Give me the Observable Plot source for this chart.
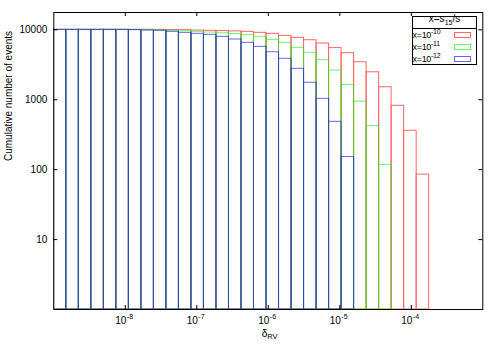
<!DOCTYPE html>
<html><head><meta charset="utf-8">
<script src="https://cdn.jsdelivr.net/npm/d3@7"></script>
<script src="https://cdn.jsdelivr.net/npm/@observablehq/plot@0.6"></script>
<style>
body{margin:0;background:#fff;font-family:"Liberation Sans",Arial,sans-serif;}
#wrap{position:relative;width:500px;height:350px;overflow:hidden;}
.abs{position:absolute;white-space:nowrap;color:#000;}
.lt{font-size:10px;line-height:12px;}
.lr{font-size:9px;line-height:12px;letter-spacing:-0.3px;}
.sub{font-size:7px;position:relative;top:2.5px;}
.sup{font-size:7px;position:relative;top:-4px;}
.sw{position:absolute;box-sizing:border-box;width:17px;height:6px;border:1px solid;}
</style></head><body><div id="wrap"></div>
<script>
// log10 of the bin edges (delta_RV)
const logEdges = [-9, -8.825, -8.65, -8.475, -8.3, -8.125, -7.95, -7.775, -7.6, -7.425, -7.25, -7.075, -6.9, -6.725, -6.55, -6.375, -6.2, -6.025, -5.85, -5.675, -5.5, -5.325, -5.15, -4.975, -4.8, -4.625, -4.45, -4.275, -4.1, -3.925, -3.75];
const seriesNames = ["x=1e-10", "x=1e-11", "x=1e-12"];
const seriesExp = ["-10", "-11", "-12"];
const seriesColors = ["#ff0000", "#00ff00", "#0000ff"];
const countsA = [10000,10000,10000,10000,10000,10000,10000,10000,10000,9950,9870,9770,9675,9600,9500,9360,9060,8770,8200,7680,7100,6370,5480,4630,3440,2470,1510,820,360,85];
const countsB = [10000,10000,10000,10000,10000,10000,10000,9900,9800,9675,9550,9360,9150,8940,8700,8370,7940,7190,6520,5530,4690,3680,2620,1630,940,420,117];
const countsC = [10000,10000,10000,10000,10000,10000,9900,9760,9680,9360,9060,8770,8480,7940,7270,6520,5710,4780,3850,2770,1750,1030,484,152];
const xTicks = [1e-8, 1e-7, 1e-6, 1e-5, 1e-4];
const yTicks = [10, 100, 1000, 10000];

const allCounts = [countsA, countsB, countsC];
const rows = allCounts.map((arr, s) => arr.map((v, k) => ({
  series: seriesNames[s], x1: 10 ** logEdges[k], x2: 10 ** logEdges[k + 1], y: v
})));

const W = 500, H = 350, mL = 53.3, mR = 17.7, mT = 12, mB = 41;
const innerW = W - mL - mR, innerH = H - mT - mB;

const marks = rows.map(r => Plot.rect(r, {x1: "x1", x2: "x2", y1: () => 1, y2: "y", fill: "none", stroke: "series", strokeWidth: 1, clip: true}));

const chart = Plot.plot({
  width: W, height: H,
  marginLeft: mL, marginRight: mR, marginTop: mT, marginBottom: mB,
  style: {fontFamily: "Liberation Sans, Arial, sans-serif", fontSize: "10px", background: "#fff"},
  x: {type: "log", domain: [1e-9, 1e-3], axis: null},
  y: {type: "log", domain: [1, 17700], axis: null},
  color: {domain: seriesNames, range: seriesColors},
  marks: [
    ...marks,
    Plot.tickX(xTicks, {x: d => d, insetTop: innerH - 4, stroke: "#000"}),
    Plot.tickX(xTicks, {x: d => d, insetBottom: innerH - 4, stroke: "#000"}),
    Plot.tickY(yTicks, {y: d => d, insetRight: innerW - 4, stroke: "#000"}),
    Plot.tickY(yTicks, {y: d => d, insetLeft: innerW - 4, stroke: "#000"}),
    Plot.text(xTicks, {x: d => d, frameAnchor: "bottom", text: () => "10", textAnchor: "end", lineAnchor: "bottom", dx: 1, dy: 14.5, fontSize: 10, fill: "#000"}),
    Plot.text(xTicks, {x: d => d, frameAnchor: "bottom", text: d => String(Math.round(Math.log10(d))), textAnchor: "start", lineAnchor: "bottom", dx: 1.5, dy: 9.5, fontSize: 7, fill: "#000"}),
    Plot.text(yTicks, {y: d => d, frameAnchor: "left", text: d => String(d), textAnchor: "end", dx: -6.5, fontSize: 10, fill: "#000"}),
    Plot.text(["Cumulative number of events"], {frameAnchor: "left", text: d => d, rotate: -90, dx: -45, fontSize: 10, fill: "#000"}),
    Plot.text(["δ"], {frameAnchor: "bottom", text: d => d, textAnchor: "end", lineAnchor: "bottom", dx: -1, dy: 27, fontSize: 10, fill: "#000"}),
    Plot.text(["RV"], {frameAnchor: "bottom", text: d => d, textAnchor: "start", lineAnchor: "bottom", dx: -1, dy: 29.5, fontSize: 7.5, fill: "#000"}),
    Plot.frame({stroke: "#000", strokeWidth: 1})
  ]
});

d3.select(chart).selectAll('g[aria-label="rect"]').attr("opacity", 0.6);
const wrap = document.getElementById("wrap");
wrap.appendChild(chart);

// legend (inside the plot, top right)
const lg = d3.select(wrap);
lg.append("div").attr("class", "abs").style("left", "412px").style("top", "15.5px").style("width", "65px").style("height", "49px")
  .style("box-sizing", "border-box").style("border", "1px solid #000").style("background", "#fff");
lg.append("div").attr("class", "abs").style("left", "412px").style("top", "27.8px").style("width", "65px").style("height", "0").style("border-top", "1px solid #000");
lg.append("div").attr("class", "abs lt").style("left", "412px").style("top", "13px").style("width", "65px").style("text-align", "center")
  .html('x=s<span class="sub">15</span>/s');
const rowTops = [28.2, 40.5, 52.8];
seriesNames.forEach((n, i) => {
  lg.append("div").attr("class", "abs lr").style("left", "412.5px").style("top", (rowTops[i] + 0.3) + "px")
    .html('x=10<span class="sup">' + seriesExp[i] + '</span>');
  lg.append("div").attr("class", "sw").style("left", "454px").style("top", (rowTops[i] + 3.3) + "px")
    .style("border-color", d3.color(seriesColors[i]).copy({opacity: 0.6}).formatRgb());
});
</script></body></html>
